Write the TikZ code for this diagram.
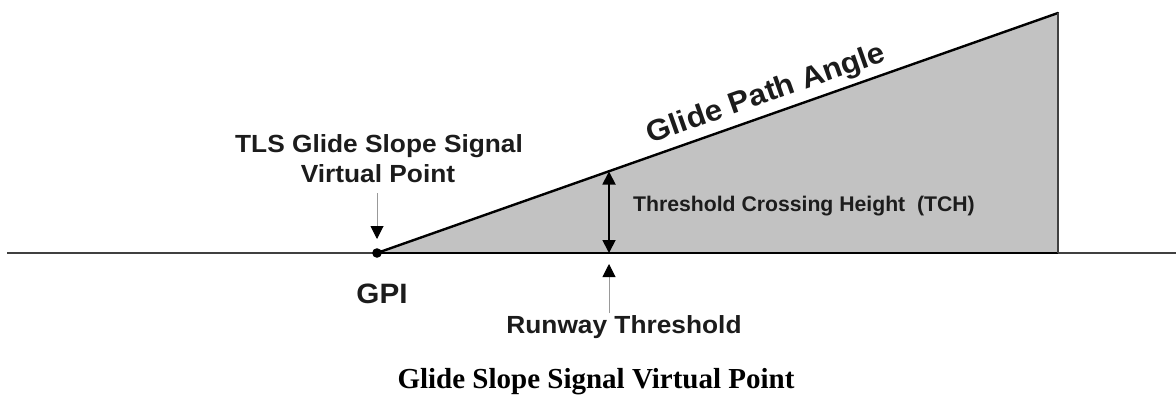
\documentclass[tikz,border=0pt]{standalone}
\usepackage{fontspec}
\usetikzlibrary{arrows.meta}
\setmainfont{Liberation Serif}
\newfontfamily\labfont[FakeStretch=1.06]{Liberation Sans}
\newfontfamily\plainsans{Liberation Sans}
\definecolor{wedge}{RGB}{194,194,194}
\definecolor{ink}{RGB}{28,28,28}
\tikzset{
  lab/.style={inner sep=0pt, anchor=base, text=ink},
  pointer/.style={draw=black!40, line width=1pt,
    -{Triangle[width=13pt,length=13pt,color=black]}},
  tchdim/.style={draw=black, line width=1.8pt,
    {Triangle[width=13pt,length=13pt]}-{Triangle[width=13pt,length=13pt]}}
}
\newcommand{\fs}[1]{\fontsize{#1}{#1}\selectfont}
\begin{document}
\begin{tikzpicture}[x=1pt,y=-1pt]
\useasboundingbox (0,0) rectangle (1176,407);

% key points of the approach geometry
\coordinate (west) at (7,253);
\coordinate (east) at (1176,253);
\coordinate (gpi) at (377,253);
\coordinate (apex) at (1058,13);
\coordinate (foot) at (1058,253);
\coordinate (thtop) at (609,171.5);
\coordinate (thbot) at (609,253);

% shaded wedge under the glide path
\fill[wedge] (gpi) -- (apex) -- (foot) -- cycle;

% ground line
\draw[line width=2.2pt, draw=black!75] (west) -- (east);
\draw[line width=1.6pt, draw=black] (gpi) -- (foot);
% glide path and far edge
\draw[line width=2.4pt, draw=black, line cap=round] (gpi) -- (apex);
\draw[line width=2pt, draw=black!75] (apex) -- (foot);

% GPI dot
\fill[black] (gpi) circle (4.8);

% threshold crossing height dimension
\draw[tchdim] (thtop) -- (thbot);

% labels
\node[lab] (tls1) at (379,152) {\labfont\bfseries\fs{24.8}TLS Glide Slope Signal};
\node[lab] (tls2) at (378,182) {\labfont\bfseries\fs{24.8}Virtual Point};
\node[lab] (gpilab) at (382,303) {\labfont\bfseries\fs{28}GPI};
\node[lab] (rwy) at (624,333) {\labfont\bfseries\fs{24.8}Runway Threshold};
\node[lab, anchor=base west] (tch) at (633,211) {\plainsans\bfseries\fs{21.2}Threshold Crossing Height\ \ (TCH)};
\node[lab, rotate=19.4] (gpa) at (769,102) {\labfont\bfseries\fs{29.6}Glide Path Angle};
\node[lab, text=black] (cap) at (596,388) {\bfseries\fs{29}Glide Slope Signal Virtual Point};

% pointer arrows
\coordinate (vpstart) at (377,193);
\coordinate (vptip) at (377,239);
\coordinate (rwstart) at (609,313);
\coordinate (rwtip) at (609,264);
\draw[pointer] (vpstart) -- (vptip);
\draw[pointer] (rwstart) -- (rwtip);
\end{tikzpicture}
\end{document}
